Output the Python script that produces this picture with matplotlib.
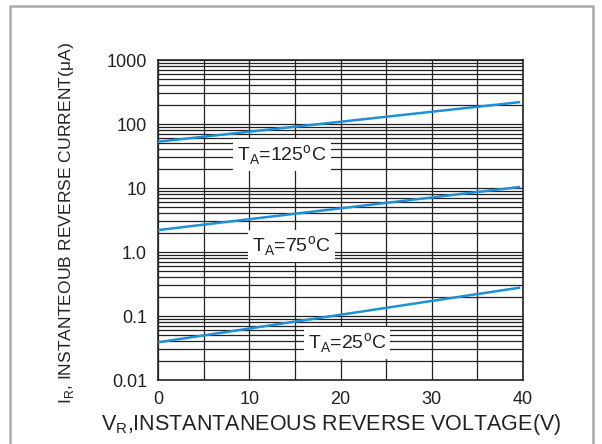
import matplotlib.pyplot as plt
from matplotlib.lines import Line2D
import numpy as np

plt.rcParams['font.family'] = ['Liberation Sans', 'DejaVu Sans']
plt.rcParams['mathtext.fontset'] = 'custom'
plt.rcParams['mathtext.rm'] = 'Liberation Sans'

# reverse voltage (V) and leakage current (uA)
vr = [0, 39.7]
ir_125 = [52.9, 220]
ir_75 = [2.2, 10.4]
ir_25 = [0.0388, 0.278]

curve_labels = [r'T$_{\mathregular{A}}$=125$^{\mathregular{o}}$C',
                r'T$_{\mathregular{A}}$=75$^{\mathregular{o}}$C',
                r'T$_{\mathregular{A}}$=25$^{\mathregular{o}}$C']
label_x = [8.7, 10.3, 16.4]
label_y = [32.8, 1.24, 0.0384]

xticks = [0, 10, 20, 30, 40]
yticks = [0.01, 0.1, 1, 10, 100, 1000]
yticklabels = ['0.01', '0.1', '1.0', '10', '100', '1000']

blue = '#1e90d8'

fig = plt.figure(figsize=(6.02, 4.44), dpi=100)
ax = fig.add_axes([158/602, 64/444, 365/602, 320/444])

ax.set_yscale('log')
ax.set_xlim(0, 40)
ax.set_ylim(0.01, 1000)

# grid: every 5 V, and 1..9 per decade
ax.set_xticks(np.arange(0, 41, 5), minor=True)
ax.set_xticks(xticks)
ax.set_xticklabels([str(t) for t in xticks])
ax.set_yticks(yticks)
ax.set_yticklabels(yticklabels)
ax.grid(True, which='both', axis='both', color='#222222', lw=0.9)
ax.set_axisbelow(True)
ax.tick_params(which='both', length=0, labelsize=13, pad=8, colors='#222222')

for s in ax.spines.values():
    s.set_color('#222222')
    s.set_linewidth(1.2)

for y in [ir_125, ir_75, ir_25]:
    ax.plot(vr, y, color=blue, lw=1.8, solid_capstyle='butt', zorder=3)

for txt, x, y in zip(curve_labels, label_x, label_y):
    ax.text(x, y, txt, fontsize=14, color='#222222', va='center', ha='left',
            bbox=dict(facecolor='white', edgecolor='none', pad=3), zorder=4)

ax.set_xlabel(r'V$_{\mathregular{R}}$,INSTANTANEOUS REVERSE VOLTAGE(V)', fontsize=15.5, color='#222222')
ax.xaxis.set_label_coords(0.474, -0.14)
ax.xaxis.label.set_va('center')
ax.set_ylabel(r'I$_{\mathregular{R}}$, INSTANTEOUB REVERSE CURRENT($\mathregular{\mu}$A)', fontsize=12.6, color='#222222')
ax.yaxis.set_label_coords(-0.252, 0.49)
ax.yaxis.label.set_va('center')

# gray frame (left, top, right)
fx0, fx1 = 10/602, 593/602
fy1 = 1 - 6/444
fig.add_artist(Line2D([fx0, fx0, fx1, fx1], [0, fy1, fy1, 0], transform=fig.transFigure,
                      color='#aaaaaa', lw=1.8))

fig.savefig('out.png', dpi=100)
